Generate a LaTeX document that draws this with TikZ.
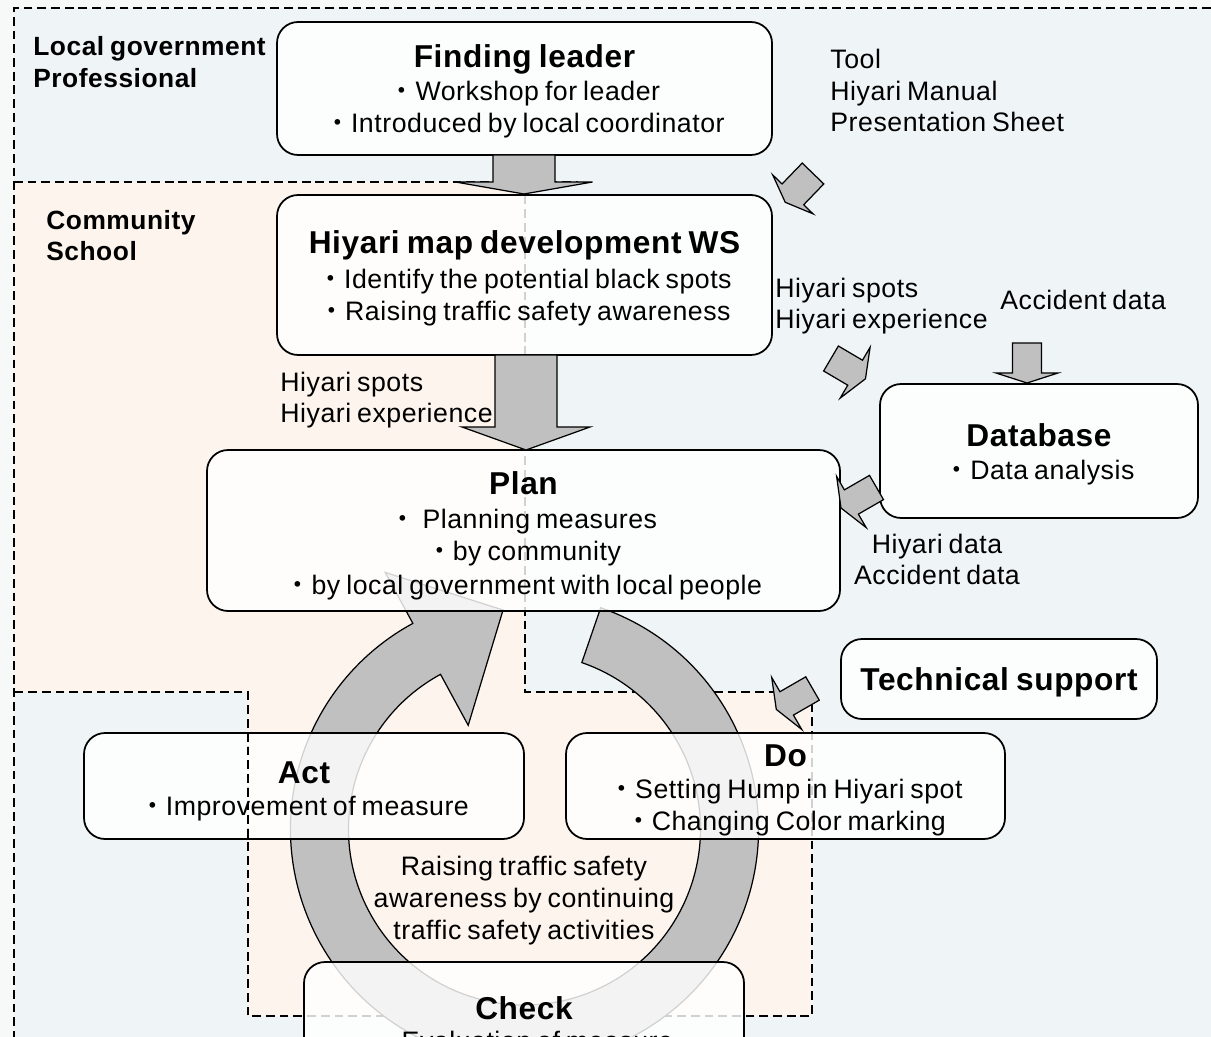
\documentclass[tikz,border=0pt]{standalone}
\usepackage{fontspec}
\setmainfont{Liberation Sans}[LetterSpace=2,WordSpace=0.75]
\newfontfamily\cjk{Noto Sans CJK JP}
\usetikzlibrary{calc,fit}
\definecolor{bgblue}{RGB}{239,245,246}
\definecolor{bgpeach}{RGB}{252,244,237}
\definecolor{argray}{RGB}{192,192,192}
\definecolor{pagebg}{RGB}{247,248,248}
\newcommand{\bul}{{\cjk ・}}
\newcommand{\ttlf}{\fontsize{18}{21}\selectfont\bfseries}
\newcommand{\bodf}{\fontsize{15.2}{18}\selectfont}
\newcommand{\lblf}{\fontsize{15}{18}\selectfont\bfseries}
\newcommand{\blockarr}[7]{%
  \begin{scope}[shift={(#1,-#2)},rotate=#3]
    \draw[garrow] (0,-#5/2) -- (#4,-#5/2) -- (#4,-#6/2) -- (#4+#7,0) -- (#4,#6/2) -- (#4,#5/2) -- (0,#5/2) -- cycle;
  \end{scope}}
\begin{document}
\begin{tikzpicture}[x=0.02cm,y=0.02cm,
  dline/.style={draw=black,line width=0.9pt,dash pattern=on 5pt off 2.8pt},
  box/.style={draw=black,line width=1pt,fill=white,fill opacity=0.82,rounded corners=12pt,inner sep=0pt},
  garrow/.style={draw=black,line width=0.7pt,fill=argray,line join=miter},
  ttl/.style={font=\ttlf,inner sep=0pt,anchor=base},
  bod/.style={font=\bodf,inner sep=0pt,anchor=base},
  lbl/.style={font=\lblf,inner sep=0pt,anchor=base west},
  side/.style={font=\bodf,inner sep=0pt,anchor=base west},
]
\useasboundingbox (0,0) rectangle (1211,-1037);
\clip (0,0) rectangle (1211,-1037);
% backgrounds
\fill[pagebg] (0,0) rectangle (1211,-1037);
\fill[bgblue] (14,-8) rectangle (1211,-1037);
\fill[bgpeach] (14,-182) -- (525,-182) -- (525,-692) -- (812,-692) -- (812,-1016) -- (248,-1016) -- (248,-692) -- (14,-692) -- cycle;
% dashed region borders
\draw[dline] (1211,-8) -- (14,-8) -- (14,-1037);
\draw[dline] (14,-182) -- (578,-182);
\draw[dline] (525,-182) -- (525,-692) -- (812,-692) -- (812,-1016) -- (248,-1016) -- (248,-692) -- (14,-692);
% circular arrow
\coordinate (cc) at (524.5,-829);
\draw[garrow] ($(cc)+(71:234)$) arc[start angle=71,end angle=-241.5,radius=234]
  -- ($(cc)+(-241.5:292)$) -- ($(cc)+(-264.4:220)$) -- ($(cc)+(-241.5:118)$)
  -- ($(cc)+(-241.5:176)$) arc[start angle=-241.5,end angle=71,radius=176] -- cycle;
% boxes
\node[box,fit={(277,-22) (772,-155)}] (finding) {};
\node[box,fit={(277,-195) (772,-355)}] (hiyari) {};
\node[box,fit={(207,-450) (840,-611)}] (plan) {};
\node[box,fit={(880,-384) (1198,-518)}] (database) {};
\node[box,fit={(841,-639) (1157,-719)}] (tech) {};
\node[box,fit={(84,-733) (524,-839)}] (act) {};
\node[box,fit={(566,-733) (1005,-839)}] (do) {};
\node[box,fit={(304,-962) (744,-1120)}] (check) {};
\draw[dline] (248,-733) -- (248,-839);
% block arrows
\blockarr{524}{155}{-90}{27}{62}{137}{12}
\blockarr{526}{355}{-90}{72}{62}{128}{23}
\blockarr{1027}{343}{-90}{30}{29}{62}{10}
\blockarr{813}{173.5}{226}{29}{30}{56}{11}
\blockarr{831}{358.5}{-30.5}{28}{29}{59}{12}
\blockarr{876.5}{487.5}{210}{29}{28}{59}{12}
\blockarr{812.5}{688.5}{210}{29.8}{27}{60}{12}
% texts
\node[ttl] (findingT) at (524.5,-68) {Finding leader};
\node[bod] (findingA) at (524.5,-101) {\bul Workshop for leader};
\node[bod] (findingB) at (524.5,-133) {\bul Introduced by local coordinator};
\node[ttl] (hiyariT) at (524.5,-254) {Hiyari map development WS};
\node[bod] (hiyariA) at (524.5,-289) {\bul Identify the potential black spots};
\node[bod] (hiyariB) at (524.5,-321) {\bul Raising traffic safety awareness};
\node[ttl] (planT) at (523.5,-494) {Plan};
\node[bod] (planA) at (523.5,-528) {\bul{} Planning measures};
\node[bod] (planB) at (523.5,-560) {\bul by community};
\node[bod] (planC) at (523.5,-594) {\bul by local government with local people};
\node[ttl] (databaseT) at (1039,-446) {Database};
\node[bod] (databaseA) at (1039,-479) {\bul Data analysis};
\node[ttl] (techT) at (999,-690) {Technical support};
\node[ttl] (actT) at (304,-783) {Act};
\node[bod] (actA) at (304,-815) {\bul Improvement of measure};
\node[ttl] (doT) at (785.5,-766) {Do};
\node[bod] (doA) at (785.5,-798) {\bul Setting Hump in Hiyari spot};
\node[bod] (doB) at (785.5,-830) {\bul Changing Color marking};
\node[ttl] (checkT) at (524,-1019) {Check};
\node[bod] (checkA) at (524,-1050) {\bul Evaluation of measure};
\node[bod] (cycA) at (524,-875) {Raising traffic safety};
\node[bod] (cycB) at (524,-907) {awareness by continuing};
\node[bod] (cycC) at (524,-939) {traffic safety activities};
\node[lbl] (lg1) at (33,-56) {Local government};
\node[lbl] (lg2) at (33,-88) {Professional};
\node[lbl] (cs1) at (46,-230) {Community};
\node[lbl] (cs2) at (46,-261) {School};
\node[side] (tool1) at (830,-69) {Tool};
\node[side] (tool2) at (830,-101) {Hiyari Manual};
\node[side] (tool3) at (830,-132) {Presentation Sheet};
\node[side] (hs1) at (775,-298) {Hiyari spots};
\node[side] (hs2) at (775,-329) {Hiyari experience};
\node[side] (acc1) at (1000,-310) {Accident data};
\node[side] (hl1) at (280,-392) {Hiyari spots};
\node[side] (hl2) at (280,-422) {Hiyari experience};
\node[bod] (hd1) at (937,-553) {Hiyari data};
\node[bod] (hd2) at (937,-584) {Accident data};
\end{tikzpicture}
\end{document}
